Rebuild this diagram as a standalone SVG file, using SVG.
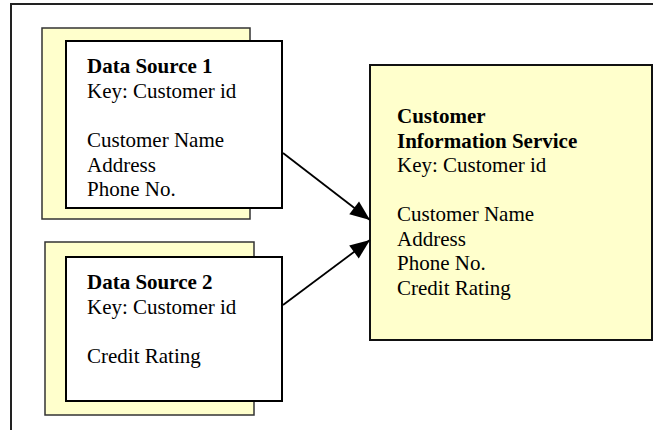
<svg xmlns="http://www.w3.org/2000/svg" width="653" height="430" viewBox="0 0 653 430">
  <style>
    .back { fill: #FFFFCC; stroke: #333; stroke-width: 1.5; }
    .front { fill: #FFFFFF; stroke: #000; stroke-width: 2; }
    .svc { fill: #FFFFCC; stroke: #111; stroke-width: 2; }
    text { font-family: "Liberation Serif", "Times New Roman", serif; font-size: 21px; fill: #000; }
    .title { font-weight: bold; }
    .link { stroke: #000; stroke-width: 1.8; fill: none; marker-end: url(#head); }
  </style>
  <defs>
    <marker id="head" refX="20" refY="8" markerWidth="20" markerHeight="16" markerUnits="userSpaceOnUse" orient="auto" overflow="visible">
      <path d="M0,0 L20,8 L0,16 Z" fill="#000"/>
    </marker>
  </defs>

  <rect width="653" height="430" fill="#fff"/>
  <!-- open frame: left and top edges -->
  <path d="M11,430 V4 H653" fill="none" stroke="#222" stroke-width="2"/>

  <g id="data-source-1">
    <rect class="back" x="42" y="28" width="208" height="191"/>
    <rect class="front" x="66" y="41" width="216" height="167"/>
    <text x="87" y="73" class="title">Data Source 1</text>
    <text x="87" y="98">Key: Customer id</text>
    <text x="87" y="147">Customer Name</text>
    <text x="87" y="171.5">Address</text>
    <text x="87" y="196">Phone No.</text>
  </g>

  <g id="data-source-2">
    <rect class="back" x="45" y="242" width="209" height="173"/>
    <rect class="front" x="66" y="257" width="216" height="144"/>
    <text x="87" y="289" class="title">Data Source 2</text>
    <text x="87" y="313.5">Key: Customer id</text>
    <text x="87" y="362.5">Credit Rating</text>
  </g>

  <g id="customer-information-service">
    <rect class="svc" x="370" y="65" width="282" height="275"/>
    <text x="397" y="123" class="title">Customer</text>
    <text x="397" y="147.5" class="title">Information Service</text>
    <text x="397" y="172">Key: Customer id</text>
    <text x="397" y="221">Customer Name</text>
    <text x="397" y="245.5">Address</text>
    <text x="397" y="270">Phone No.</text>
    <text x="397" y="294.5">Credit Rating</text>
  </g>

  <g id="connectors">
    <path d="M283,153 L370,220" class="link"/>
    <path d="M283,305 L370,240" class="link"/>
  </g>
</svg>
